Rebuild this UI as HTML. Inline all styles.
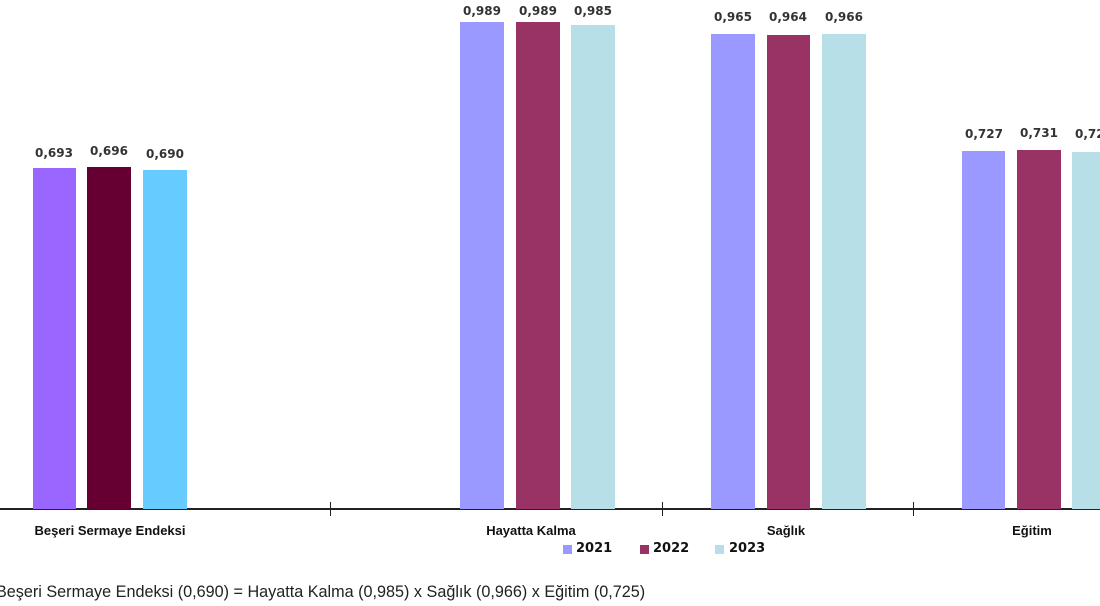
<!DOCTYPE html>
<html><head><meta charset="utf-8"><style>
body{margin:0;background:#fff;width:1100px;height:606px;overflow:hidden;position:relative;font-family:"DejaVu Sans","Liberation Sans",sans-serif}
.b{position:absolute;bottom:97px}
.v{position:absolute;font-size:12px;font-weight:bold;color:#333;width:60px;text-align:center}
.c{position:absolute;top:523px;width:200px;text-align:center;font-family:"Liberation Sans",sans-serif;font-size:13px;font-weight:bold;color:#111;white-space:nowrap}
.t{position:absolute;top:502px;width:1px;height:14px;background:#222}
.lg{position:absolute;top:545px;width:9px;height:9px}
.lt{position:absolute;top:541px;font-size:13px;font-weight:bold;color:#111}
</style></head><body>
<div style="position:absolute;left:0;top:508px;width:1100px;height:2px;background:#222"></div>
<div class="t" style="left:330px"></div><div class="t" style="left:662px"></div><div class="t" style="left:913px"></div>

<div class="b" style="left:33px;width:43px;height:341px;background:#9966ff"></div>
<div class="b" style="left:87px;width:44px;height:342px;background:#660033"></div>
<div class="b" style="left:143px;width:44px;height:339px;background:#66ccff"></div>
<div class="v" style="left:24px;top:146px">0,693</div>
<div class="v" style="left:79px;top:144px">0,696</div>
<div class="v" style="left:135px;top:147px">0,690</div>

<div class="b" style="left:460px;width:44px;height:487px;background:#9999ff"></div>
<div class="b" style="left:516px;width:44px;height:487px;background:#993366"></div>
<div class="b" style="left:571px;width:44px;height:484px;background:#b7dfe8"></div>
<div class="v" style="left:452px;top:4px">0,989</div>
<div class="v" style="left:508px;top:4px">0,989</div>
<div class="v" style="left:563px;top:4px">0,985</div>

<div class="b" style="left:711px;width:44px;height:475px;background:#9999ff"></div>
<div class="b" style="left:767px;width:43px;height:474px;background:#993366"></div>
<div class="b" style="left:822px;width:44px;height:475px;background:#b7dfe8"></div>
<div class="v" style="left:703px;top:10px">0,965</div>
<div class="v" style="left:758px;top:10px">0,964</div>
<div class="v" style="left:814px;top:10px">0,966</div>

<div class="b" style="left:962px;width:43px;height:358px;background:#9999ff"></div>
<div class="b" style="left:1017px;width:44px;height:359px;background:#993366"></div>
<div class="b" style="left:1072px;width:44px;height:357px;background:#b7dfe8"></div>
<div class="v" style="left:954px;top:127px">0,727</div>
<div class="v" style="left:1009px;top:126px">0,731</div>
<div class="v" style="left:1064px;top:127px">0,725</div>

<div class="c" style="left:10px">Beşeri Sermaye Endeksi</div>
<div class="c" style="left:431px">Hayatta Kalma</div>
<div class="c" style="left:686px">Sağlık</div>
<div class="c" style="left:932px">Eğitim</div>

<div class="lg" style="left:563px;background:#9999ff"></div><div class="lt" style="left:576px">2021</div>
<div class="lg" style="left:640px;background:#993366"></div><div class="lt" style="left:653px">2022</div>
<div class="lg" style="left:715px;background:#b7dfe8"></div><div class="lt" style="left:729px">2023</div>

<div style="position:absolute;left:-4px;top:583px;font-family:'Liberation Sans',sans-serif;font-size:16.2px;color:#222;white-space:nowrap">Beşeri Sermaye Endeksi (0,690) = Hayatta Kalma (0,985) x Sağlık (0,966) x Eğitim (0,725)</div>
</body></html>
